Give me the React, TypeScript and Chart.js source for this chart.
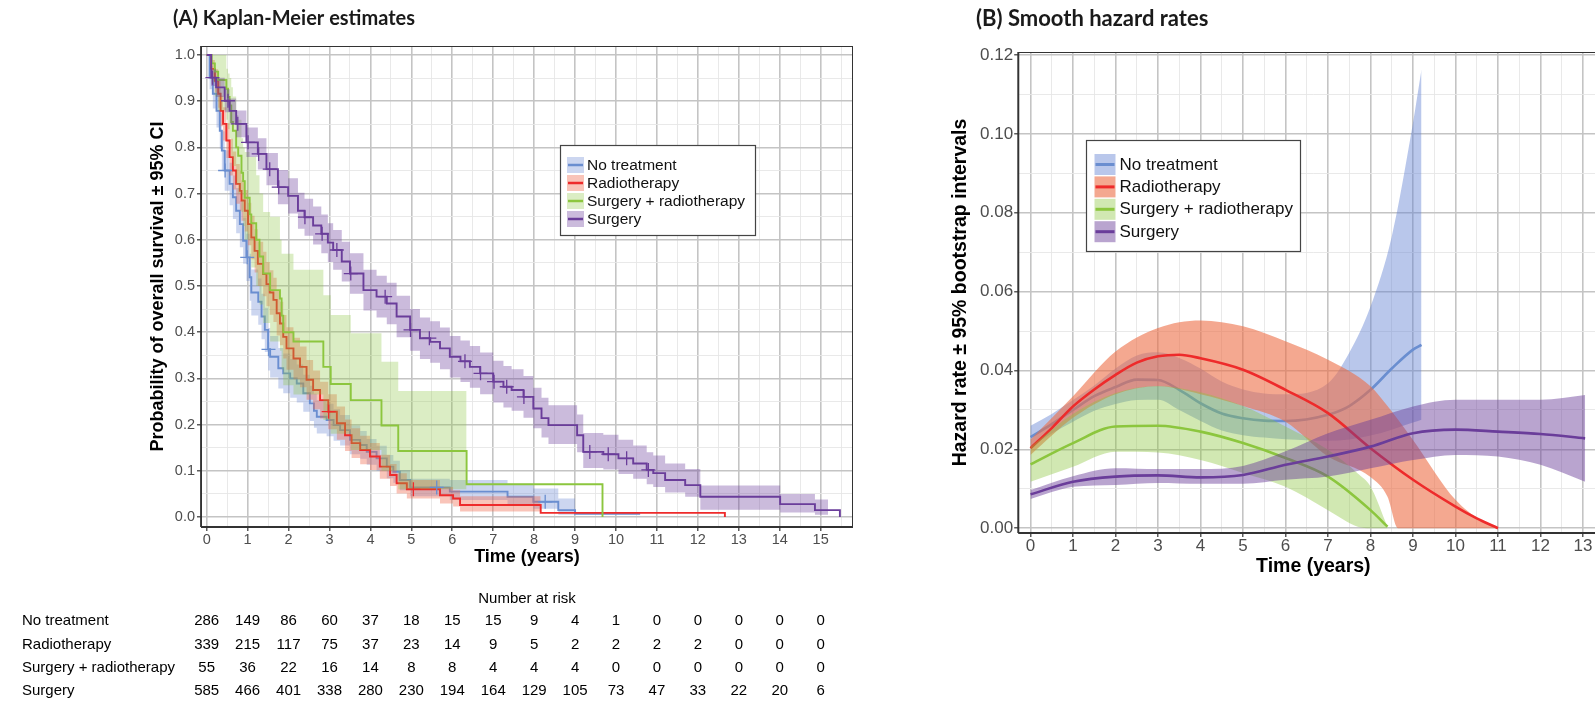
import React, { useEffect, useRef } from 'react';
import { Chart, registerables } from 'chart.js';

Chart.register(...registerables);

const SANS = '"Liberation Sans", Arial, Helvetica, sans-serif';
const HEAD = 'Lato, "Open Sans", sans-serif';

// ---------------- Panel A: Kaplan-Meier ----------------
const groupNames = ['No treatment', 'Radiotherapy', 'Surgery + radiotherapy', 'Surgery'];

// No treatment
const noTxT = [0, 0.07, 0.15, 0.24, 0.32, 0.37, 0.44, 0.56, 0.64, 0.72, 0.81, 0.89, 0.97, 1.05, 1.09, 1.26, 1.34, 1.42, 1.50, 1.55, 1.75, 1.87, 2.04, 2.20, 2.36, 2.52, 2.62, 2.69, 2.93, 3.10, 3.26, 3.50, 3.75, 3.91, 4.15, 4.40, 4.56, 4.72, 4.97, 5.94, 7.35, 7.98, 8.59, 9.00, 10.59];
const noTxS = [1, 0.951, 0.916, 0.879, 0.836, 0.793, 0.750, 0.721, 0.692, 0.663, 0.634, 0.598, 0.562, 0.519, 0.486, 0.466, 0.434, 0.405, 0.363, 0.347, 0.322, 0.311, 0.300, 0.289, 0.268, 0.246, 0.230, 0.217, 0.210, 0.199, 0.188, 0.167, 0.156, 0.141, 0.127, 0.109, 0.098, 0.080, 0.064, 0.055, 0.044, 0.033, 0.015, 0.007, 0.007];
const noTxLo = [1, 0.926, 0.884, 0.843, 0.797, 0.751, 0.706, 0.675, 0.645, 0.614, 0.584, 0.548, 0.511, 0.468, 0.436, 0.416, 0.385, 0.357, 0.317, 0.302, 0.278, 0.268, 0.258, 0.248, 0.228, 0.208, 0.193, 0.181, 0.175, 0.165, 0.155, 0.136, 0.126, 0.113, 0.100, 0.084, 0.074, 0.058, 0.045, 0.037, 0.027, 0.018, 0.005, 0.007];
const noTxHi = [1, 0.976, 0.948, 0.915, 0.875, 0.835, 0.794, 0.767, 0.739, 0.712, 0.684, 0.648, 0.613, 0.570, 0.536, 0.516, 0.483, 0.453, 0.409, 0.392, 0.366, 0.354, 0.342, 0.330, 0.308, 0.284, 0.267, 0.253, 0.245, 0.233, 0.221, 0.198, 0.186, 0.169, 0.154, 0.134, 0.122, 0.102, 0.083, 0.080, 0.072, 0.062, 0.040, 0.007];
const noTxCensT = [0.45, 0.99, 1.51, 5.62, 8.27];
const noTxCensS = [0.750, 0.562, 0.363, 0.064, 0.033];

// Radiotherapy
const radT = [0, 0.11, 0.20, 0.28, 0.34, 0.40, 0.48, 0.56, 0.64, 0.72, 0.81, 0.85, 0.93, 1.01, 1.09, 1.17, 1.25, 1.38, 1.46, 1.54, 1.63, 1.71, 1.79, 1.87, 1.95, 2.12, 2.28, 2.44, 2.60, 2.77, 2.97, 3.18, 3.38, 3.54, 3.75, 3.99, 4.23, 4.48, 4.64, 4.89, 5.70, 6.02, 6.19, 8.16, 12.66];
const radS = [1, 0.970, 0.944, 0.916, 0.879, 0.851, 0.815, 0.779, 0.750, 0.721, 0.706, 0.685, 0.663, 0.634, 0.605, 0.576, 0.548, 0.526, 0.504, 0.486, 0.470, 0.441, 0.419, 0.390, 0.365, 0.343, 0.325, 0.297, 0.275, 0.253, 0.228, 0.203, 0.177, 0.160, 0.145, 0.131, 0.109, 0.091, 0.073, 0.060, 0.047, 0.040, 0.026, 0.009, 0];
const radLo = [1, 0.951, 0.919, 0.886, 0.846, 0.815, 0.777, 0.739, 0.709, 0.678, 0.663, 0.641, 0.618, 0.588, 0.558, 0.529, 0.500, 0.478, 0.456, 0.438, 0.422, 0.393, 0.372, 0.343, 0.319, 0.298, 0.281, 0.254, 0.233, 0.213, 0.190, 0.167, 0.143, 0.128, 0.114, 0.102, 0.083, 0.067, 0.051, 0.040, 0.029, 0.023, 0.012, 0.009];
const radHi = [1, 0.989, 0.969, 0.946, 0.912, 0.887, 0.853, 0.819, 0.791, 0.764, 0.749, 0.729, 0.708, 0.680, 0.652, 0.623, 0.596, 0.574, 0.552, 0.534, 0.518, 0.489, 0.466, 0.437, 0.411, 0.388, 0.369, 0.340, 0.317, 0.293, 0.266, 0.239, 0.211, 0.192, 0.176, 0.160, 0.135, 0.115, 0.095, 0.080, 0.065, 0.058, 0.045, 0.009];
const radCensT = [2.98, 5.05];
const radCensS = [0.228, 0.060];

// Surgery + radiotherapy
const srT = [0, 0.12, 0.20, 0.28, 0.48, 0.52, 0.56, 0.60, 0.64, 0.72, 0.77, 0.85, 0.89, 0.93, 1.05, 1.09, 1.21, 1.29, 1.38, 1.55, 1.79, 1.83, 1.87, 2.12, 2.85, 3.03, 3.52, 4.27, 4.68, 6.35, 9.67];
const srS = [1, 0.982, 0.964, 0.946, 0.927, 0.909, 0.891, 0.855, 0.836, 0.800, 0.782, 0.745, 0.727, 0.691, 0.655, 0.636, 0.600, 0.564, 0.527, 0.491, 0.473, 0.436, 0.400, 0.380, 0.325, 0.288, 0.253, 0.198, 0.143, 0.071, 0];
const srLo = [1, 0.94, 0.91, 0.88, 0.86, 0.84, 0.82, 0.78, 0.76, 0.72, 0.70, 0.66, 0.63, 0.60, 0.56, 0.54, 0.50, 0.46, 0.42, 0.38, 0.36, 0.32, 0.285, 0.265, 0.21, 0.18, 0.145, 0.10, 0.06, 0.071];
const srHi = [1, 1, 1, 1, 0.97, 0.96, 0.95, 0.93, 0.91, 0.87, 0.86, 0.82, 0.80, 0.79, 0.78, 0.78, 0.74, 0.70, 0.66, 0.65, 0.60, 0.57, 0.57, 0.535, 0.48, 0.437, 0.398, 0.336, 0.273, 0.071];
const srCensT: number[] = [];
const srCensS: number[] = [];

// Surgery
const sgT = [0, 0.11, 0.23, 0.44, 0.56, 0.72, 0.97, 1.25, 1.46, 1.74, 1.99, 2.23, 2.39, 2.60, 2.80, 2.96, 3.09, 3.30, 3.50, 3.83, 4.15, 4.40, 4.64, 4.97, 5.21, 5.46, 5.70, 5.94, 6.20, 6.43, 6.68, 7.00, 7.25, 7.45, 7.74, 7.98, 8.18, 8.35, 9.05, 9.20, 9.69, 10.06, 10.42, 10.75, 10.91, 11.20, 11.69, 12.06, 14.01, 14.86, 15.47];
const sgS = [1, 0.951, 0.930, 0.901, 0.879, 0.851, 0.811, 0.786, 0.753, 0.714, 0.695, 0.663, 0.649, 0.631, 0.613, 0.594, 0.578, 0.553, 0.527, 0.491, 0.477, 0.462, 0.434, 0.405, 0.387, 0.379, 0.365, 0.347, 0.337, 0.325, 0.311, 0.293, 0.282, 0.275, 0.260, 0.235, 0.214, 0.199, 0.177, 0.141, 0.136, 0.127, 0.116, 0.102, 0.095, 0.080, 0.069, 0.044, 0.028, 0.015, 0];
const sgCiEnd = 15.18;
const sgLo = [1, 0.933, 0.909, 0.876, 0.852, 0.822, 0.779, 0.752, 0.718, 0.677, 0.657, 0.624, 0.609, 0.590, 0.571, 0.552, 0.535, 0.510, 0.483, 0.447, 0.432, 0.417, 0.389, 0.360, 0.342, 0.334, 0.320, 0.302, 0.292, 0.280, 0.266, 0.248, 0.237, 0.230, 0.215, 0.192, 0.172, 0.158, 0.140, 0.106, 0.103, 0.093, 0.083, 0.071, 0.065, 0.053, 0.044, 0.016, 0.010, 0.005, 0.015];
const sgHi = [1, 0.969, 0.951, 0.926, 0.906, 0.880, 0.843, 0.820, 0.788, 0.751, 0.733, 0.702, 0.689, 0.672, 0.655, 0.636, 0.621, 0.596, 0.571, 0.535, 0.522, 0.507, 0.479, 0.450, 0.432, 0.424, 0.410, 0.392, 0.382, 0.370, 0.356, 0.338, 0.327, 0.320, 0.305, 0.280, 0.258, 0.242, 0.222, 0.182, 0.178, 0.167, 0.155, 0.140, 0.133, 0.116, 0.104, 0.068, 0.050, 0.038, 0.015];
const sgCensT = [0.14, 0.52, 0.76, 1.01, 1.27, 1.54, 1.76, 2.40, 2.82, 3.18, 3.52, 4.36, 4.98, 5.44, 6.31, 6.69, 7.02, 7.33, 7.75, 9.36, 9.81, 10.26, 10.79];
const sgCensS = [0.951, 0.901, 0.851, 0.811, 0.786, 0.753, 0.714, 0.649, 0.613, 0.578, 0.527, 0.477, 0.405, 0.387, 0.337, 0.311, 0.293, 0.282, 0.260, 0.141, 0.136, 0.127, 0.102];

const kmXTicks = [0, 1, 2, 3, 4, 5, 6, 7, 8, 9, 10, 11, 12, 13, 14, 15];
const kmYTicks = [0, 0.1, 0.2, 0.3, 0.4, 0.5, 0.6, 0.7, 0.8, 0.9, 1.0];

// Number at risk table
const riskTimes = [0, 1, 2, 3, 4, 5, 6, 7, 8, 9, 10, 11, 12, 13, 14, 15];
const riskNoTx = [286, 149, 86, 60, 37, 18, 15, 15, 9, 4, 1, 0, 0, 0, 0, 0];
const riskRad = [339, 215, 117, 75, 37, 23, 14, 9, 5, 2, 2, 2, 2, 0, 0, 0];
const riskSurgRad = [55, 36, 22, 16, 14, 8, 8, 4, 4, 4, 0, 0, 0, 0, 0, 0];
const riskSurg = [585, 466, 401, 338, 280, 230, 194, 164, 129, 105, 73, 47, 33, 22, 20, 6];

// ---------------- Panel B: Smooth hazard rates ----------------
const hzNoTxT = [0, 0.5, 1, 1.5, 2, 2.5, 3, 3.5, 4, 4.5, 5, 5.5, 6, 7, 7.5, 8, 8.5, 9, 9.2];
const hzNoTx = [0.0231, 0.0264, 0.0300, 0.0335, 0.0358, 0.0377, 0.0376, 0.0351, 0.0317, 0.0291, 0.0279, 0.0273, 0.0272, 0.0288, 0.0310, 0.0351, 0.0405, 0.0453, 0.0465];
const hzNoTxLo = [0.0207, 0.0240, 0.0270, 0.0298, 0.0315, 0.0325, 0.0326, 0.0300, 0.0272, 0.0248, 0.0236, 0.0230, 0.0226, 0.0222, 0.0225, 0.0235, 0.0250, 0.0268, 0.0275];
const hzNoTxHi = [0.0260, 0.0290, 0.0325, 0.0362, 0.0405, 0.0438, 0.0446, 0.0432, 0.0405, 0.0372, 0.0352, 0.0342, 0.0340, 0.0368, 0.0445, 0.0562, 0.0740, 0.1028, 0.1163];

const hzRadT = [0, 0.5, 1, 1.5, 2, 2.5, 3, 3.5, 4, 5, 6, 7, 8, 9, 10, 10.5, 11];
const hzRad = [0.0203, 0.0254, 0.0309, 0.0352, 0.0389, 0.0420, 0.0436, 0.0440, 0.0431, 0.0402, 0.0351, 0.0292, 0.0203, 0.0123, 0.0055, 0.0025, 0.0000];
const hzRadCiT = [0, 1, 2, 3, 4, 5, 6, 7, 8, 8.4, 8.65, 9, 10, 10.6, 11];
const hzRadLo = [0.0186, 0.0280, 0.0340, 0.0360, 0.0340, 0.0310, 0.0270, 0.0182, 0.0130, 0.0080, 0, 0, 0, 0, 0];
const hzRadHi = [0.0225, 0.0335, 0.0448, 0.0508, 0.0527, 0.0512, 0.0474, 0.0427, 0.0360, 0.0310, 0.0275, 0.0224, 0.0072, 0.0020, 0];

const hzSrT = [0, 1, 2, 3, 4, 5, 6, 7, 8, 8.4];
const hzSr = [0.0162, 0.0216, 0.0258, 0.0260, 0.0245, 0.0216, 0.0178, 0.0131, 0.0046, 0.0004];
const hzSrCiT = [0, 1, 2, 3, 4, 5, 6, 7, 7.7, 8, 8.4];
const hzSrLo = [0.0118, 0.0156, 0.0194, 0.0192, 0.0173, 0.0140, 0.0105, 0.0046, 0.0004, 0, 0];
const hzSrHi = [0.0207, 0.0290, 0.0343, 0.0361, 0.0345, 0.0310, 0.0258, 0.0199, 0.0139, 0.0106, 0.0004];

const hzSgT = [0, 1, 2, 3, 4, 5, 6, 7, 8, 9, 10, 11, 12, 13.05];
const hzSg = [0.0086, 0.0118, 0.0131, 0.0134, 0.0129, 0.0135, 0.0161, 0.0182, 0.0207, 0.0241, 0.0250, 0.0245, 0.0239, 0.0228];
const hzSgLo = [0.0074, 0.0105, 0.0110, 0.0115, 0.0113, 0.0113, 0.0123, 0.0131, 0.0152, 0.0173, 0.0186, 0.0182, 0.0161, 0.0118];
const hzSgHi = [0.0097, 0.0132, 0.0152, 0.0150, 0.0150, 0.0158, 0.0195, 0.0241, 0.0275, 0.0309, 0.0326, 0.0326, 0.0326, 0.0338];

const hzXTicks = [0, 1, 2, 3, 4, 5, 6, 7, 8, 9, 10, 11, 12, 13];
const hzYTicks = [0, 0.02, 0.04, 0.06, 0.08, 0.10, 0.12];

// ---------------- styles ----------------
const lineColors = ['#6A8ED0', '#EE2B2B', '#8CC63E', '#6A3D9A'];
const kmBand = ['rgba(100,130,210,0.33)', 'rgba(240,100,70,0.38)', 'rgba(140,198,63,0.31)', 'rgba(106,61,154,0.35)'];
const hzBand = ['rgba(100,130,210,0.45)', 'rgba(236,110,70,0.6)', 'rgba(140,198,63,0.4)', 'rgba(106,61,154,0.47)'];
const GRID_MAJOR = 'rgb(196,196,196)';
const GRID_MINOR = 'rgb(230,230,230)';
const TICK_TEXT = '#4d4d4d';

const pts = (xs: number[], ys: number[]) => xs.map((x, i) => ({ x, y: ys[i] }));
const near = (list: number[]) => (v: number) => list.some((m) => Math.abs(m - v) < 1e-9);
const withHalf = (list: number[], half: number, includeLast: boolean) => {
  const out: number[] = [];
  list.forEach((v, i) => {
    out.push(v);
    if (i < list.length - 1 || includeLast) out.push(v + half);
  });
  return out;
};

function gridOpts(isMajor: (v: number) => boolean, tickLen: number) {
  return {
    color: (c: any) => (isMajor(c.tick ? c.tick.value : 0) ? GRID_MAJOR : GRID_MINOR),
    lineWidth: (c: any) => (isMajor(c.tick ? c.tick.value : 0) ? 1.6 : 0.9),
    tickColor: (c: any) => (isMajor(c.tick ? c.tick.value : 0) ? '#333333' : 'rgba(0,0,0,0)'),
    tickLength: tickLen,
    tickWidth: 1.2,
    drawTicks: true,
  };
}

function drawLegend(ctx: CanvasRenderingContext2D, o: any, bands: string[]) {
  ctx.save();
  ctx.fillStyle = '#ffffff';
  ctx.fillRect(o.x, o.y, o.w, o.h);
  ctx.strokeStyle = '#444444';
  ctx.lineWidth = 1.2;
  ctx.strokeRect(o.x + 0.5, o.y + 0.5, o.w, o.h);
  ctx.font = o.font;
  ctx.textBaseline = 'middle';
  ctx.textAlign = 'left';
  groupNames.forEach((name, i) => {
    const ky = o.keyY0 + o.step * i;
    ctx.fillStyle = bands[i];
    ctx.fillRect(o.keyX, ky, o.keyW, o.keyH);
    ctx.strokeStyle = lineColors[i];
    ctx.lineWidth = o.lineW;
    ctx.beginPath();
    ctx.moveTo(o.keyX + 1, ky + o.keyH / 2);
    ctx.lineTo(o.keyX + o.keyW - 1, ky + o.keyH / 2);
    ctx.stroke();
    ctx.fillStyle = '#111111';
    ctx.fillText(name, o.textX, o.textY0 + o.step * i);
  });
  ctx.restore();
}

function drawFrame(ctx: CanvasRenderingContext2D, a: any) {
  ctx.save();
  ctx.strokeStyle = '#333333';
  ctx.lineWidth = 1;
  ctx.strokeRect(a.left + 0.5, a.top + 0.5, a.right - a.left - 1, a.bottom - a.top - 1);
  ctx.lineWidth = 1.8;
  ctx.beginPath();
  ctx.moveTo(a.left, a.bottom);
  ctx.lineTo(a.right, a.bottom);
  ctx.moveTo(a.left, a.top);
  ctx.lineTo(a.left, a.bottom);
  ctx.stroke();
  ctx.restore();
}

const panelAPlugin = {
  id: 'panelA',
  afterDatasetsDraw(chart: any) {
    const ctx = chart.ctx as CanvasRenderingContext2D;
    drawFrame(ctx, chart.chartArea);
    drawLegend(ctx, {
      x: 560, y: 145, w: 195, h: 90, keyX: 567, keyY0: 157, keyW: 17, keyH: 16, step: 18,
      textX: 587, textY0: 166, font: `15.5px ${SANS}`, lineW: 2.5,
    }, kmBand);
  },
  afterDraw(chart: any) {
    const ctx = chart.ctx as CanvasRenderingContext2D;
    const a = chart.chartArea;
    const xs = chart.scales.x;
    ctx.save();
    ctx.fillStyle = '#1a1a1a';
    ctx.font = `bold 20px ${HEAD}`;
    ctx.textBaseline = 'middle';
    ctx.textAlign = 'left';
    ctx.fillText('(A) Kaplan-Meier estimates', 173, 19);

    ctx.fillStyle = '#000000';
    ctx.font = `15px ${SANS}`;
    ctx.textAlign = 'center';
    ctx.fillText('Number at risk', (a.left + a.right) / 2, 599);
    const rows = [riskNoTx, riskRad, riskSurgRad, riskSurg];
    const rowY = [621, 644.5, 667.5, 690.5];
    rows.forEach((r, ri) => {
      ctx.textAlign = 'left';
      ctx.fillText(groupNames[ri], 22, rowY[ri]);
      ctx.textAlign = 'center';
      r.forEach((n, i) => ctx.fillText(String(n), xs.getPixelForValue(riskTimes[i]), rowY[ri]));
    });
    ctx.restore();
  },
};

const panelBPlugin = {
  id: 'panelB',
  afterDatasetsDraw(chart: any) {
    const ctx = chart.ctx as CanvasRenderingContext2D;
    drawFrame(ctx, chart.chartArea);
    drawLegend(ctx, {
      x: 186, y: 140, w: 214, h: 111, keyX: 194.5, keyY0: 154, keyW: 21, keyH: 21, step: 22.4,
      textX: 219.5, textY0: 165, font: `17px ${SANS}`, lineW: 3,
    }, hzBand);
  },
  afterDraw(chart: any) {
    const ctx = chart.ctx as CanvasRenderingContext2D;
    ctx.save();
    ctx.fillStyle = '#1a1a1a';
    ctx.font = `bold 22px ${HEAD}`;
    ctx.textBaseline = 'middle';
    ctx.textAlign = 'left';
    ctx.fillText('(B) Smooth hazard rates', 76, 19);
    ctx.restore();
  },
};

function kmConfig(): any {
  const groups = [
    { t: noTxT, s: noTxS, lo: noTxLo, hi: noTxHi, ciT: noTxT.slice(0, noTxLo.length), cT: noTxCensT, cS: noTxCensS },
    { t: radT, s: radS, lo: radLo, hi: radHi, ciT: radT.slice(0, radLo.length), cT: radCensT, cS: radCensS },
    { t: srT, s: srS, lo: srLo, hi: srHi, ciT: srT.slice(0, srLo.length), cT: srCensT, cS: srCensS },
    { t: sgT, s: sgS, lo: sgLo, hi: sgHi, ciT: [...sgT.slice(0, sgLo.length - 1), sgCiEnd], cT: sgCensT, cS: sgCensS },
  ];
  const ds: any[] = [];
  groups.forEach((g, gi) => {
    ds.push({ data: pts(g.ciT, g.hi), borderColor: 'rgba(0,0,0,0)', borderWidth: 0, pointRadius: 0, stepped: 'before', fill: false });
    ds.push({ data: pts(g.ciT, g.lo), borderColor: 'rgba(0,0,0,0)', borderWidth: 0, pointRadius: 0, stepped: 'before', fill: '-1', backgroundColor: kmBand[gi] });
    ds.push({ label: groupNames[gi], data: pts(g.t, g.s), borderColor: lineColors[gi], borderWidth: 1.9, pointRadius: 0, stepped: 'before', fill: false });
  });
  groups.forEach((g, gi) => {
    ds.push({
      data: pts(g.cT, g.cS), showLine: false, pointStyle: 'cross', pointRadius: 7,
      pointBorderColor: lineColors[gi], pointBorderWidth: 1.3, borderColor: lineColors[gi], fill: false,
    });
  });
  ds.forEach((d, i) => { d.order = 1000 - i; });

  const xMajor = near(kmXTicks);
  const yMajor = near(kmYTicks);
  const xGrid = withHalf(kmXTicks, 0.5, true);
  const yGrid = withHalf(kmYTicks, 0.05, false);

  return {
    type: 'line',
    data: { datasets: ds },
    plugins: [panelAPlugin],
    options: {
      responsive: false,
      animation: false,
      events: [],
      layout: { padding: { top: 46, right: 47, bottom: 136, left: 0 } },
      plugins: { legend: { display: false }, tooltip: { enabled: false }, title: { display: false } },
      scales: {
        x: {
          type: 'linear', min: -0.139, max: 15.79,
          afterBuildTicks: (s: any) => { s.ticks = xGrid.map((v) => ({ value: v })); },
          afterFit: (s: any) => { s.height = 50; },
          ticks: {
            autoSkip: false, maxRotation: 0, minRotation: 0, padding: 0, color: TICK_TEXT,
            font: { family: SANS, size: 14.5 },
            callback: (v: number) => (xMajor(v) ? String(Math.round(v)) : ''),
          },
          grid: gridOpts(xMajor, 4),
          border: { display: false },
          title: { display: true, text: 'Time (years)', color: '#000', font: { family: SANS, size: 18, weight: 'bold' }, padding: { top: 0, bottom: 9 } },
        },
        y: {
          type: 'linear', min: -0.0216, max: 1.0195,
          afterBuildTicks: (s: any) => { s.ticks = yGrid.map((v) => ({ value: v })); },
          afterFit: (s: any) => { s.width = 201; },
          ticks: {
            autoSkip: false, padding: 2, color: TICK_TEXT,
            font: { family: SANS, size: 14.5 },
            callback: (v: number) => (yMajor(v) ? v.toFixed(1) : ''),
          },
          grid: gridOpts(yMajor, 4),
          border: { display: false },
          title: { display: true, text: 'Probability of overall survival ± 95% CI', color: '#000', font: { family: SANS, size: 18, weight: 'bold' }, padding: { top: 147, bottom: 0 } },
        },
      },
    },
  };
}

function hzConfig(): any {
  const groups = [
    { t: hzNoTxT, v: hzNoTx, ciT: hzNoTxT, lo: hzNoTxLo, hi: hzNoTxHi },
    { t: hzRadT, v: hzRad, ciT: hzRadCiT, lo: hzRadLo, hi: hzRadHi },
    { t: hzSrT, v: hzSr, ciT: hzSrCiT, lo: hzSrLo, hi: hzSrHi },
    { t: hzSgT, v: hzSg, ciT: hzSgT, lo: hzSgLo, hi: hzSgHi },
  ];
  const ds: any[] = [];
  groups.forEach((g, gi) => {
    ds.push({ data: pts(g.ciT, g.hi), borderColor: 'rgba(0,0,0,0)', borderWidth: 0, pointRadius: 0, cubicInterpolationMode: 'monotone', fill: false });
    ds.push({ data: pts(g.ciT, g.lo), borderColor: 'rgba(0,0,0,0)', borderWidth: 0, pointRadius: 0, cubicInterpolationMode: 'monotone', fill: '-1', backgroundColor: hzBand[gi] });
    ds.push({ label: groupNames[gi], data: pts(g.t, g.v), borderColor: lineColors[gi], borderWidth: 2.6, pointRadius: 0, cubicInterpolationMode: 'monotone', fill: false });
  });
  ds.forEach((d, i) => { d.order = 1000 - i; });

  const xMajor = near(hzXTicks);
  const yMajor = near(hzYTicks);
  const xGrid = withHalf(hzXTicks, 0.5, true);
  const yGrid = withHalf(hzYTicks, 0.01, false);

  return {
    type: 'line',
    data: { datasets: ds },
    plugins: [panelBPlugin],
    options: {
      responsive: false,
      animation: false,
      events: [],
      layout: { padding: { top: 52, right: 51.5, bottom: 130, left: 0 } },
      plugins: { legend: { display: false }, tooltip: { enabled: false }, title: { display: false } },
      scales: {
        x: {
          type: 'linear', min: -0.29, max: 13.6,
          afterBuildTicks: (s: any) => { s.ticks = xGrid.map((v) => ({ value: v })); },
          afterFit: (s: any) => { s.height = 50; },
          ticks: {
            autoSkip: false, maxRotation: 0, minRotation: 0, padding: -1, color: TICK_TEXT,
            font: { family: SANS, size: 17 },
            callback: (v: number) => (xMajor(v) ? String(Math.round(v)) : ''),
          },
          grid: gridOpts(xMajor, 4),
          border: { display: false },
          title: { display: true, text: 'Time (years)', color: '#000', font: { family: SANS, size: 19.5, weight: 'bold' }, padding: { top: 0, bottom: 5 } },
        },
        y: {
          type: 'linear', min: -0.0012, max: 0.12076,
          afterBuildTicks: (s: any) => { s.ticks = yGrid.map((v) => ({ value: v })); },
          afterFit: (s: any) => { s.width = 118.2; },
          ticks: {
            autoSkip: false, padding: 1, color: TICK_TEXT,
            font: { family: SANS, size: 17 },
            callback: (v: number) => (yMajor(v) ? v.toFixed(2) : ''),
          },
          grid: gridOpts(yMajor, 4),
          border: { display: false },
          title: { display: true, text: 'Hazard rate ± 95% bootstrap intervals', color: '#000', font: { family: SANS, size: 19.5, weight: 'bold' }, padding: { top: 49, bottom: 0 } },
        },
      },
    },
  };
}

export default function App() {
  const leftRef = useRef<HTMLCanvasElement>(null);
  const rightRef = useRef<HTMLCanvasElement>(null);
  useEffect(() => {
    const c1 = new Chart(leftRef.current as HTMLCanvasElement, kmConfig());
    const c2 = new Chart(rightRef.current as HTMLCanvasElement, hzConfig());
    return () => {
      c1.destroy();
      c2.destroy();
    };
  }, []);
  return (
    <div style={{ position: 'fixed', left: 0, top: 0, width: 1595, height: 713, overflow: 'hidden', background: '#ffffff' }}>
      <canvas ref={leftRef} width={900} height={713} style={{ position: 'absolute', left: 0, top: 0 }} />
      <canvas ref={rightRef} width={760} height={713} style={{ position: 'absolute', left: 900, top: 0 }} />
    </div>
  );
}
